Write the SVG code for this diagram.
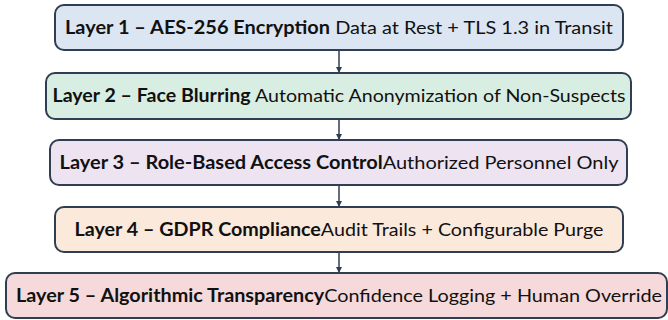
<svg xmlns="http://www.w3.org/2000/svg" width="668" height="320" viewBox="0 0 668 320">
<style>
.box{stroke:#2f3e52;stroke-width:2}
.t{font-family:Lato,"Open Sans",sans-serif;font-size:18px;fill:#111;text-anchor:middle}
.b{font-weight:bold}
.edge{stroke:#2f3e52;stroke-width:1.5;fill:none}
</style>
<defs>
<marker id="ah" markerWidth="6" markerHeight="6" refX="5" refY="3" orient="auto" markerUnits="userSpaceOnUse">
<path d="M0,0 L6,3 L0,6 z" fill="#2f3e52"/>
</marker>
</defs>
<g id="connectors">
<line class="edge" x1="339" y1="50" x2="339" y2="72" marker-end="url(#ah)"/>
<line class="edge" x1="339" y1="119" x2="339" y2="139" marker-end="url(#ah)"/>
<line class="edge" x1="339" y1="186" x2="339" y2="206" marker-end="url(#ah)"/>
<line class="edge" x1="339" y1="252" x2="339" y2="272" marker-end="url(#ah)"/>
</g>
<g id="layer1">
<rect class="box" x="55" y="5" width="568" height="45" rx="9" fill="#dce6f2"/>
<text class="t" x="339" y="34" textLength="548" lengthAdjust="spacingAndGlyphs"><tspan class="b">Layer 1 – AES-256 Encryption</tspan> Data at Rest + TLS 1.3 in Transit</text>
</g>
<g id="layer2">
<rect class="box" x="46" y="73" width="585" height="46" rx="9" fill="#d9eee2"/>
<text class="t" x="339" y="102" textLength="573" lengthAdjust="spacingAndGlyphs"><tspan class="b">Layer 2 – Face Blurring</tspan> Automatic Anonymization of Non-Suspects</text>
</g>
<g id="layer3">
<rect class="box" x="50" y="140" width="577" height="45" rx="9" fill="#ede3f1"/>
<text class="t" x="339" y="169" textLength="559" lengthAdjust="spacingAndGlyphs"><tspan class="b">Layer 3 – Role-Based Access Control</tspan>Authorized Personnel Only</text>
</g>
<g id="layer4">
<rect class="box" x="55" y="207" width="568" height="45" rx="9" fill="#fbe9dc"/>
<text class="t" x="339" y="236" textLength="529" lengthAdjust="spacingAndGlyphs"><tspan class="b">Layer 4 – GDPR Compliance</tspan>Audit Trails + Configurable Purge</text>
</g>
<g id="layer5">
<rect class="box" x="6" y="273" width="661" height="45" rx="9" fill="#f6d9da"/>
<text class="t" x="339" y="302" textLength="646" lengthAdjust="spacingAndGlyphs"><tspan class="b">Layer 5 – Algorithmic Transparency</tspan>Confidence Logging + Human Override</text>
</g>
</svg>
